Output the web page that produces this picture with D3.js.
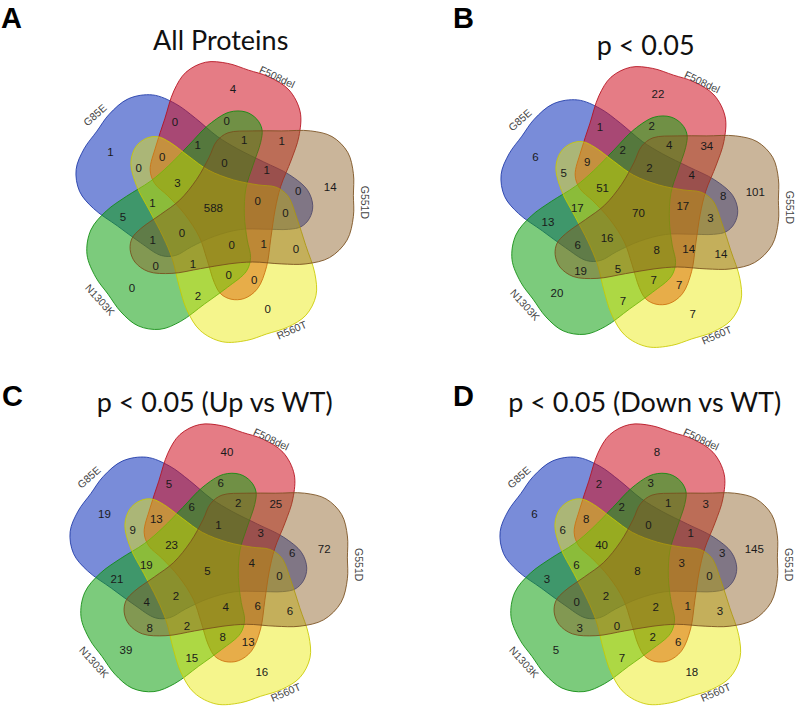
<!DOCTYPE html>
<html>
<head>
<meta charset="utf-8">
<script src="https://cdn.jsdelivr.net/npm/d3@7"></script>
<style>
  html, body { margin: 0; padding: 0; background: #ffffff; }
  svg { display: block; }
</style>
</head>
<body>
<svg id="chart" width="800" height="708"></svg>
<script>
// ---------------- DATA ----------------
// Sets, clockwise from the top
const setNames = ["F508del", "G551D", "R560T", "N1303K", "G85E"];
const setColors = ["#d01020", "#8a5a20", "#e8e800", "#10a010", "#2040c0"];

const panelLetters = ["A", "B", "C", "D"];
const panelTitles = ["All Proteins", "p < 0.05", "p < 0.05 (Up vs WT)", "p < 0.05 (Down vs WT)"];

// Region order (31 regions, names built below in regionKeys):
// 5 singles, 5 adjacent pairs, 5 non-adjacent pairs, 5 triples (type A),
// 5 consecutive triples, 5 quadruples, all five.
const countsAll  = [4, 14, 0, 0, 1,   0, 1, 0, 2, 5,    0, 0, 0, 0, 0,    1, 0, 0, 1, 0,   1, 1, 1, 1, 1,   0, 0, 0, 0, 3,    588];
const countsP05  = [22, 101, 7, 20, 6, 1, 34, 14, 7, 13, 2, 8, 7, 19, 5,   4, 3, 7, 6, 9,   2, 4, 14, 5, 17, 2, 17, 8, 16, 51, 70];
const countsUp   = [40, 72, 16, 39, 19, 5, 25, 6, 15, 21, 6, 6, 13, 8, 9,  2, 0, 8, 4, 13,  6, 3, 6, 2, 19,  1, 4, 4, 2, 23,  5];
const countsDown = [8, 145, 18, 5, 6,  2, 3, 3, 7, 3,   3, 3, 6, 3, 6,   1, 0, 2, 0, 8,   2, 1, 1, 0, 6,   0, 3, 2, 2, 40,  8];
const panelCounts = [countsAll, countsP05, countsUp, countsDown];

// ---------------- LAYOUT ----------------
const W = 800, H = 708;
const panelCenters = [[214.7, 205], [639.7, 210], [208.7, 567.3], [638.7, 567.3]];
const letterPos = [[1, 28], [453, 28], [2, 406], [453, 406]];
const setAngle = k => -78 + 72 * k;            // degrees, screen coords
// outline of one set (drawn in G551D orientation), diagram units
const template = [
  [14,-76],[40,-78],[70,-78],[101,-78],[123.5,-72],[140,-55.5],[146,-33],[146,-10],
  [146,12],[139.3,37],[121,55.3],[96,62],[70,62],[40,60],[15,62],[-15,67],[-45,72],
  [-70,70],[-84,60],[-89,47],[-87,35],[-78,25],[-57,10],[-37,-5],[-19,-27],[-6,-50],[2,-67]
];
const templateSet = 1;
// label anchors per region class: radius & angle offset from the set angle
const anchorClasses = [
  { r: 117,  off: -3   },   // single
  { r: 92.5, off: -37.5 },  // adjacent pair {j-1, j}
  { r: 84.8, off: -3.8 },   // pair {j, j+3}
  { r: 71.2, off: 12.6 },   // triple {j, j+1, j+3}
  { r: 62.4, off: -27.7 },  // triple {j-1, j, j+3}
  { r: 43.3, off: 0.9 }     // quad without j+2
];
const classMembers = [
  j => [j],
  j => [j - 1, j],
  j => [j, j + 3],
  j => [j, j + 1, j + 3],
  j => [j - 1, j, j + 3],
  j => [j, j + 1, j + 3, j + 4]
];
const setLabelLayout = [   // angle (deg), radius, text rotation
  [-64, 142.4, 25.5], [-1, 150.3, 90], [58.4, 146.8, -23.6], [140.4, 148.9, 48], [216.9, 149.8, -42]
];

const mod5 = v => ((v % 5) + 5) % 5;
const regionKeys = [];
const regionAnchors = [];
classMembers.forEach((fn, ci) => {
  for (let j = 0; j < 5; j++) {
    const m = fn(j).map(mod5).sort((a, b) => a - b);
    regionKeys.push(m.map(i => setNames[i]).join("&"));
    regionAnchors.push({ r: anchorClasses[ci].r, a: setAngle(j) + anchorClasses[ci].off });
  }
});
regionKeys.push(setNames.join("&"));
regionAnchors.push({ dx: -1.3, dy: 3.3 });

// scales from diagram units to pixels
const unit = d3.scaleLinear().domain([0, 1]).range([0, 1]);
const shapeUnit = d3.scaleLinear().domain([0, 1]).range([0, 0.95]);
const rad = d => d * Math.PI / 180;
function polar(r, aDeg) { return [unit(r * Math.cos(rad(aDeg))), unit(r * Math.sin(rad(aDeg)))]; }
function rotatePts(pts, aDeg) {
  const c = Math.cos(rad(aDeg)), s = Math.sin(rad(aDeg));
  return pts.map(([x, y]) => [shapeUnit(x * c - y * s), shapeUnit(x * s + y * c)]);
}
const line = d3.line().curve(d3.curveCatmullRomClosed.alpha(0.5));

const svg = d3.select("#chart");
svg.append("rect").attr("width", W).attr("height", H).attr("fill", "#fff");

const drawOrder = [4, 0, 3, 2, 1];
const fillOpacity = [0.55, 0.45, 0.45, 0.55, 0.6];

panelCenters.forEach((c, p) => {
  const g = svg.append("g").attr("transform", `translate(${c[0]},${c[1]})`);
  // shapes
  g.selectAll("path.set").data(drawOrder).join("path")
    .attr("class", "set")
    .attr("d", k => line(rotatePts(template, setAngle(k) - setAngle(templateSet))))
    .attr("fill", k => setColors[k])
    .attr("fill-opacity", k => fillOpacity[k])
    .attr("stroke", k => d3.color(setColors[k]).darker(0.4))
    .attr("stroke-opacity", 0.85)
    .attr("stroke-width", 1);

  // set names
  g.selectAll("text.setname").data(setNames).join("text")
    .attr("class", "setname")
    .attr("transform", (d, k) => {
      const [x, y] = polar(setLabelLayout[k][1], setLabelLayout[k][0]);
      return `translate(${x},${y}) rotate(${setLabelLayout[k][2]})`;
    })
    .attr("text-anchor", "middle").attr("dy", "0.35em")
    .attr("font-family", "Liberation Sans, Arial, sans-serif")
    .attr("font-size", 10.5).attr("fill", "#444")
    .text(d => d);

  // region counts
  const counts = panelCounts[p];
  g.selectAll("text.count").data(regionKeys).join("text")
    .attr("class", "count")
    .attr("x", (d, i) => regionAnchors[i].dx !== undefined ? regionAnchors[i].dx : polar(regionAnchors[i].r, regionAnchors[i].a)[0])
    .attr("y", (d, i) => regionAnchors[i].dy !== undefined ? regionAnchors[i].dy : polar(regionAnchors[i].r, regionAnchors[i].a)[1])
    .attr("dy", "0.35em").attr("text-anchor", "middle")
    .attr("font-family", "Liberation Sans, Arial, sans-serif")
    .attr("font-size", 11.5).attr("fill", "#1a1a1a")
    .text((d, i) => counts[i]);

  // title
  g.append("text")
    .attr("x", 6).attr("y", -155.5)
    .attr("text-anchor", "middle")
    .attr("font-family", "Lato, Open Sans, sans-serif")
    .attr("font-size", 27).attr("fill", "#111")
    .text(panelTitles[p]);

  // panel letter
  svg.append("text")
    .attr("x", letterPos[p][0]).attr("y", letterPos[p][1])
    .attr("font-family", "Liberation Sans, Arial, sans-serif")
    .attr("font-weight", "bold")
    .attr("font-size", 29).attr("fill", "#000")
    .text(panelLetters[p]);
});
</script>
</body>
</html>
